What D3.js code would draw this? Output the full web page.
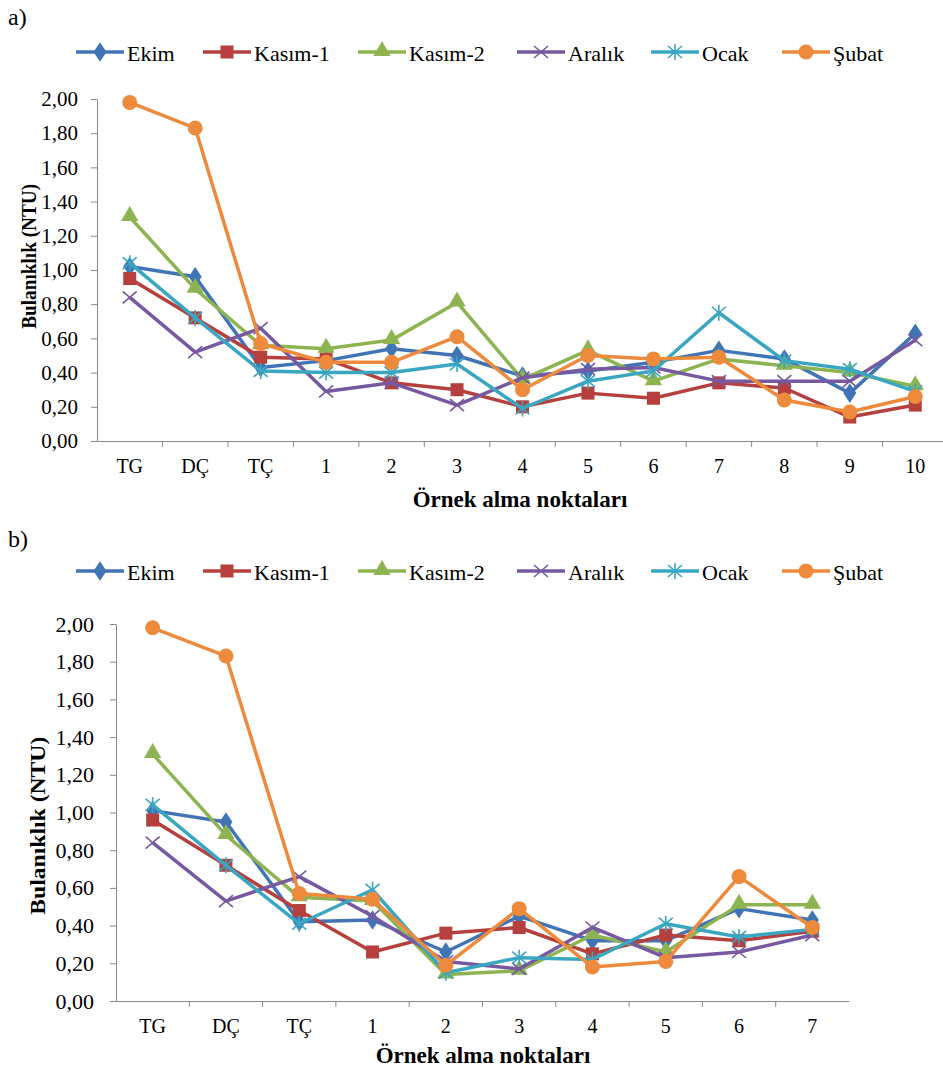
<!DOCTYPE html>
<html>
<head>
<meta charset="utf-8">
<script src="https://cdn.jsdelivr.net/npm/d3@7"></script>
<style>
  body { margin: 0; background: #fff; }
  svg { display: block; }
  svg text { font-family: "Liberation Serif", "Times New Roman", Tinos, "DejaVu Serif", serif; fill: #000; }
  .axis path, .axis line { stroke: #898989; }
</style>
</head>
<body>
<div id="plot"></div>
<script>
// Series names and categories
var seriesNames = ["Ekim", "Kasım-1", "Kasım-2", "Aralık", "Ocak", "Şubat"];
var catsA = ["TG", "DÇ", "TÇ", "1", "2", "3", "4", "5", "6", "7", "8", "9", "10"];
var catsB = ["TG", "DÇ", "TÇ", "1", "2", "3", "4", "5", "6", "7"];
var yTicks = [0, 0.2, 0.4, 0.6, 0.8, 1.0, 1.2, 1.4, 1.6, 1.8, 2.0];

// panel a) values
var ekimA    = [1.02, 0.96, 0.43, 0.47, 0.54, 0.50, 0.38, 0.41, 0.46, 0.53, 0.48, 0.28, 0.63];
var kasim1A  = [0.95, 0.72, 0.49, 0.48, 0.34, 0.30, 0.20, 0.28, 0.25, 0.34, 0.31, 0.14, 0.21];
var kasim2A  = [1.31, 0.89, 0.56, 0.54, 0.59, 0.81, 0.36, 0.53, 0.35, 0.48, 0.44, 0.40, 0.32];
var aralikA  = [0.84, 0.52, 0.66, 0.29, 0.34, 0.21, 0.37, 0.42, 0.43, 0.35, 0.35, 0.35, 0.59];
var ocakA    = [1.04, 0.72, 0.41, 0.40, 0.40, 0.45, 0.19, 0.35, 0.41, 0.75, 0.47, 0.42, 0.29];
var subatA   = [1.98, 1.83, 0.57, 0.46, 0.46, 0.61, 0.30, 0.50, 0.48, 0.49, 0.24, 0.17, 0.26];

// panel b) values
var ekimB    = [1.01, 0.95, 0.42, 0.43, 0.26, 0.45, 0.32, 0.32, 0.49, 0.43];
var kasim1B  = [0.96, 0.72, 0.48, 0.26, 0.36, 0.39, 0.25, 0.35, 0.32, 0.37];
var kasim2B  = [1.31, 0.88, 0.55, 0.53, 0.14, 0.16, 0.35, 0.26, 0.51, 0.51];
var aralikB  = [0.84, 0.53, 0.66, 0.45, 0.21, 0.17, 0.39, 0.23, 0.26, 0.35];
var ocakB    = [1.04, 0.72, 0.41, 0.59, 0.15, 0.23, 0.22, 0.41, 0.34, 0.38];
var subatB   = [1.98, 1.83, 0.57, 0.54, 0.19, 0.49, 0.18, 0.21, 0.66, 0.39];

var colours = ["#4174B5", "#B5403D", "#8DB451", "#7659A0", "#3AA7C2", "#EE8A3C"];
var markers = ["diamond", "square", "triangle", "x", "star", "circle"];

var w = 943, h = 1073;
var svg = d3.select("#plot").append("svg").attr("width", w).attr("height", h);

// marker drawing
function drawMarker(g, type, x, y, col) {
  if (type === "diamond") {
    g.append("path").attr("d", d3.symbol().type(d3.symbolDiamond).size(110)())
      .attr("transform", "translate(" + x + "," + y + ") scale(1.15,1)")
      .attr("fill", col);
  } else if (type === "square") {
    g.append("rect").attr("x", x - 6.5).attr("y", y - 6.5).attr("width", 13).attr("height", 13)
      .attr("fill", col);
  } else if (type === "triangle") {
    g.append("path").attr("d", d3.symbol().type(d3.symbolTriangle).size(130)())
      .attr("transform", "translate(" + x + "," + (y - 1) + ")")
      .attr("fill", col);
  } else if (type === "x") {
    g.append("path").attr("d", "M-7,-6L7,6M-7,6L7,-6")
      .attr("transform", "translate(" + x + "," + y + ")")
      .attr("stroke", col).attr("stroke-width", 1.6).attr("fill", "none");
  } else if (type === "star") {
    g.append("path").attr("d", "M-7,-6L7,6M-7,6L7,-6M0,-8L0,8")
      .attr("transform", "translate(" + x + "," + y + ")")
      .attr("stroke", col).attr("stroke-width", 1.6).attr("fill", "none");
  } else {
    g.append("circle").attr("cx", x).attr("cy", y).attr("r", 7.5).attr("fill", col);
  }
}

function drawPanel(p) {
  var xScale = d3.scaleBand().domain(p.cats).range([p.left, p.right]);
  var yScale = d3.scaleLinear().domain([0, 2]).range([p.bottom, p.top]);

  // panel label
  svg.append("text").attr("x", 8).attr("y", p.labelY).attr("font-size", 24).text(p.label);

  // legend
  var lx = [76, 203, 358, 517, 651, 782];
  seriesNames.forEach(function(name, i) {
    var g = svg.append("g");
    g.append("line").attr("x1", lx[i]).attr("x2", lx[i] + 48)
      .attr("y1", p.legendY).attr("y2", p.legendY)
      .attr("stroke", colours[i]).attr("stroke-width", 3.5);
    drawMarker(g, markers[i], lx[i] + 24, p.legendY, colours[i]);
    g.append("text").attr("x", lx[i] + 51).attr("y", p.legendY + 9)
      .attr("font-size", 22).text(name);
  });

  // axes
  var yAxis = d3.axisLeft(yScale).tickValues(yTicks).tickSize(6).tickSizeOuter(0)
    .tickFormat(function(d) { return d3.format(".2f")(d).replace(".", ","); });
  svg.append("g").attr("class", "axis")
    .attr("transform", "translate(" + p.left + ",0)")
    .call(yAxis)
    .call(function(g) {
      g.selectAll("text").attr("dx", p.yLabelDx).attr("font-size", p.yTickFont)
        .attr("font-family", null);
    });

  var xAxis = d3.axisBottom(xScale).tickSize(0).tickSizeOuter(0);
  var gx = svg.append("g").attr("class", "axis")
    .attr("transform", "translate(0," + p.bottom + ")")
    .call(xAxis);
  gx.attr("font-family", null);
  gx.selectAll("text").attr("dy", "1.45em").attr("font-size", 20);
  // category separator ticks
  gx.selectAll(".sep").data(p.cats.slice(1)).enter().append("line")
    .attr("x1", function(d) { return xScale(d); }).attr("x2", function(d) { return xScale(d); })
    .attr("y1", 0).attr("y2", 6).attr("stroke", "#898989");

  // axis titles
  svg.append("text").attr("transform", "translate(" + p.yTitleX + "," + yScale(p.yTitleAt) + ") rotate(-90)")
    .attr("text-anchor", "middle").attr("font-size", 22).attr("font-weight", "bold")
    .attr("textLength", p.yTitleLen).attr("lengthAdjust", "spacingAndGlyphs")
    .text("Bulanıklık (NTU)");
  svg.append("text").attr("x", p.xTitleX).attr("y", p.xTitleY)
    .attr("text-anchor", "middle").attr("font-size", 23).attr("font-weight", "bold")
    .text("Örnek alma noktaları");

  // series
  var line = d3.line()
    .x(function(d, i) { return xScale(p.cats[i]) + xScale.bandwidth() / 2; })
    .y(function(d) { return yScale(d); });

  p.series.forEach(function(vals, s) {
    var g = svg.append("g");
    g.append("path").attr("d", line(vals)).attr("fill", "none")
      .attr("stroke", colours[s]).attr("stroke-width", 3.5).attr("stroke-linejoin", "round");
    vals.forEach(function(v, i) {
      drawMarker(g, markers[s], xScale(p.cats[i]) + xScale.bandwidth() / 2, yScale(v), colours[s]);
    });
  });
}

drawPanel({
  label: "a)", labelY: 25, legendY: 52,
  cats: catsA, left: 97, right: 948, top: 99, bottom: 441,
  series: [ekimA, kasim1A, kasim2A, aralikA, ocakA, subatA],
  yTickFont: 21, yLabelDx: -10,
  yTitleX: 36, yTitleAt: 1.08, yTitleLen: 145,
  xTitleX: 520, xTitleY: 507
});

drawPanel({
  label: "b)", labelY: 547, legendY: 571,
  cats: catsB, left: 116, right: 849, top: 624, bottom: 1001,
  series: [ekimB, kasim1B, kasim2B, aralikB, ocakB, subatB],
  yTickFont: 22, yLabelDx: -13,
  yTitleX: 45, yTitleAt: 0.93, yTitleLen: 178,
  xTitleX: 483, xTitleY: 1063
});
</script>
</body>
</html>
